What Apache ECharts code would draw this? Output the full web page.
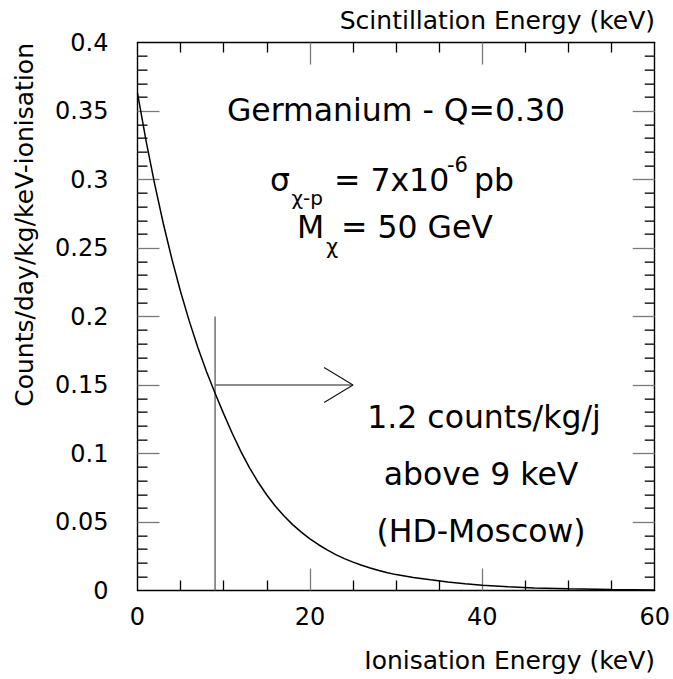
<!DOCTYPE html>
<html>
<head>
<meta charset="utf-8">
<script src="https://cdn.jsdelivr.net/npm/echarts@6/dist/echarts.min.js"></script>
<style>
html,body{margin:0;padding:0;background:#fff;}
#chart{width:673px;height:679px;}
</style>
</head>
<body>
<div id="chart"></div>
<script>
// ---- data ----
const energyKeV = [0,1,2,3,4,5,6,7,8,9,10,11,12,13,14,15,16,17,18,19,20,21,22,23,24,25,26,27,28,29,30,32,34,36,38,40,43,46,50,55,60];
const countsRate = [0.363,0.328,0.2965,0.2677,0.2417,0.2181,0.1968,0.1774,0.1599,0.144,0.1289,0.1146,0.1014,0.0895,0.079,0.0697,0.0615,0.0544,0.0481,0.0426,0.0377,0.0334,0.0296,0.0262,0.0233,0.0207,0.0184,0.0164,0.0146,0.013,0.0116,0.0095,0.0078,0.0062,0.0049,0.0039,0.0027,0.0019,0.0012,0.0007,0.0004];
const thresholdLine = [[9,0],[9,0.2]];
const arrowShaft = [[9,0.15],[25,0.15]];
const arrowHead = [[21.65,0.1628],[25,0.15],[21.65,0.1372]];
const xTickLabels = ['0','20','40','60'];
const yTickLabels = ['0','0.05','0.1','0.15','0.2','0.25','0.3','0.35','0.4'];
const xMajorTicks = [20,40];
const xMinorTicks = [5,10,15,25,30,35,45,50,55];
const yMajorTicks = [0.05,0.1,0.15,0.2,0.25,0.3,0.35];
const yMinorTicks = [0.01,0.02,0.03,0.04,0.06,0.07,0.08,0.09,0.11,0.12,0.13,0.14,0.16,0.17,0.18,0.19,
                     0.21,0.22,0.23,0.24,0.26,0.27,0.28,0.29,0.31,0.32,0.33,0.34,0.36,0.37,0.38,0.39];
const xTitle = 'Ionisation Energy (keV)';
const xTopTitle = 'Scintillation Energy (keV)';
const yTitle = 'Counts/day/kg/keV-ionisation';
const headline = 'Germanium - Q=0.30';
const resultLines = ['1.2 counts/kg/j','above 9 keV','(HD-Moscow)'];

const FONT = 'DejaVu Sans';
const X_MIN = 0, X_MAX = 60, Y_MIN = 0, Y_MAX = 0.4;
const GRID = {left:137.5,right:16.5,top:42.5,bottom:88.5};
const MINOR_LEN = 10;

const chart = echarts.init(document.getElementById('chart'), null, {renderer:'svg'});

function makeAxis(pos, isX, showLabels){
  return {
    type:'value', position:pos, gridIndex:0,
    min: isX ? X_MIN : Y_MIN, max: isX ? X_MAX : Y_MAX, interval: isX ? 20 : 0.05,
    axisLine:{show:true,onZero:false,lineStyle:{color:'#000',width:1.4}},
    axisTick:{show:true,inside:true,length:22,customValues: isX ? xMajorTicks : yMajorTicks,
      lineStyle:{color:'#7a7a7a',width:1.3}},
    minorTick:{show:false},
    splitLine:{show:false}, minorSplitLine:{show:false},
    axisLabel:{show:showLabels,fontSize:24,color:'#000',fontFamily:FONT,margin:isX?14:29,
      formatter:(v,i)=> isX ? xTickLabels[i] : yTickLabels[i]}
  };
}
function makeMinorXAxis(pos){
  return {
    type:'value', position:pos, gridIndex:0,
    min:X_MIN, max:X_MAX, interval:5,
    axisLine:{show:false,onZero:false},
    axisTick:{show:true,inside:true,length:MINOR_LEN,customValues:xMinorTicks,lineStyle:{color:'#000',width:1.3}},
    minorTick:{show:false},
    splitLine:{show:false}, minorSplitLine:{show:false},
    axisLabel:{show:false}
  };
}

function segment(data, color, width, z){
  return {type:'line',xAxisIndex:0,yAxisIndex:0,data:data,showSymbol:false,symbol:'none',
    silent:true,lineStyle:{color:color,width:width},z:z};
}

function txt(text, x, y, size, align, extra){
  return Object.assign({type:'text', x:x, y:y, silent:true,
    style:{text:text, fontFamily:FONT, fontSize:size, fill:'#000', align:align||'center', verticalAlign:'middle'}}, extra||{});
}

const option = {
  animation:false,
  backgroundColor:'#fff',
  textStyle:{fontFamily:FONT},
  grid:Object.assign({containLabel:false}, GRID),
  xAxis:[ makeAxis('bottom',true,true), makeAxis('top',true,false), makeMinorXAxis('bottom'), makeMinorXAxis('top') ],
  yAxis:[ makeAxis('left',false,true), makeAxis('right',false,false) ],
  series:[
    {type:'line',name:'rate',xAxisIndex:0,yAxisIndex:0,data:energyKeV.map((e,i)=>[e,countsRate[i]]),
     smooth:false,showSymbol:false,symbol:'none',
     lineStyle:{color:'#000',width:1.5},z:5},
    segment(thresholdLine, '#666', 1.4, 4),
    segment(arrowShaft, '#666', 1.4, 4),
    segment(arrowHead, '#111', 1.1, 4),
    // minor ticks of the left and right y axes, as thin filled bars placed through the y scale
    {type:'custom',xAxisIndex:0,yAxisIndex:0,silent:true,z:10,clip:false,
     data:yMinorTicks.map(v=>[X_MIN,v]),
     encode:{x:0,y:1},
     renderItem:function(params, api){
       const v = api.value(1);
       const pL = api.coord([X_MIN, v]);
       const pR = api.coord([X_MAX, v]);
       const y = Math.round(pL[1]) - 0.5;
       return {type:'group', children:[
         {type:'rect', shape:{x:pL[0], y:y, width:MINOR_LEN, height:1.3}, style:{fill:'#000'}},
         {type:'rect', shape:{x:pR[0]-MINOR_LEN, y:y, width:MINOR_LEN, height:1.3}, style:{fill:'#000'}}
       ]};
     }}
  ],
  graphic:[
    txt(xTopTitle, 655, 20, 25, 'right'),
    txt(xTitle, 655, 660, 25, 'right'),
    txt(yTitle, 24, 43, 25, 'right', {rotation:Math.PI/2}),
    txt(headline, 396, 110, 31.5, 'center'),
    txt('\u03c3', 270, 180, 31.5, 'left'),
    txt('\u03c7-p', 291.5, 198, 20, 'left'),
    txt('= 7x10', 334, 180, 31.5, 'left'),
    txt('-6', 447, 165, 21, 'left'),
    txt('pb', 474, 180, 31.5, 'left'),
    txt('M', 297, 227, 31.5, 'left'),
    txt('\u03c7', 326, 247, 21, 'left'),
    txt('= 50 GeV', 341, 227, 31.5, 'left'),
    txt(resultLines[0], 484, 417, 31.5, 'center'),
    txt(resultLines[1], 481, 474, 31.5, 'center'),
    txt(resultLines[2], 481, 531, 31.5, 'center')
  ]
};
chart.setOption(option);
</script>
</body>
</html>
